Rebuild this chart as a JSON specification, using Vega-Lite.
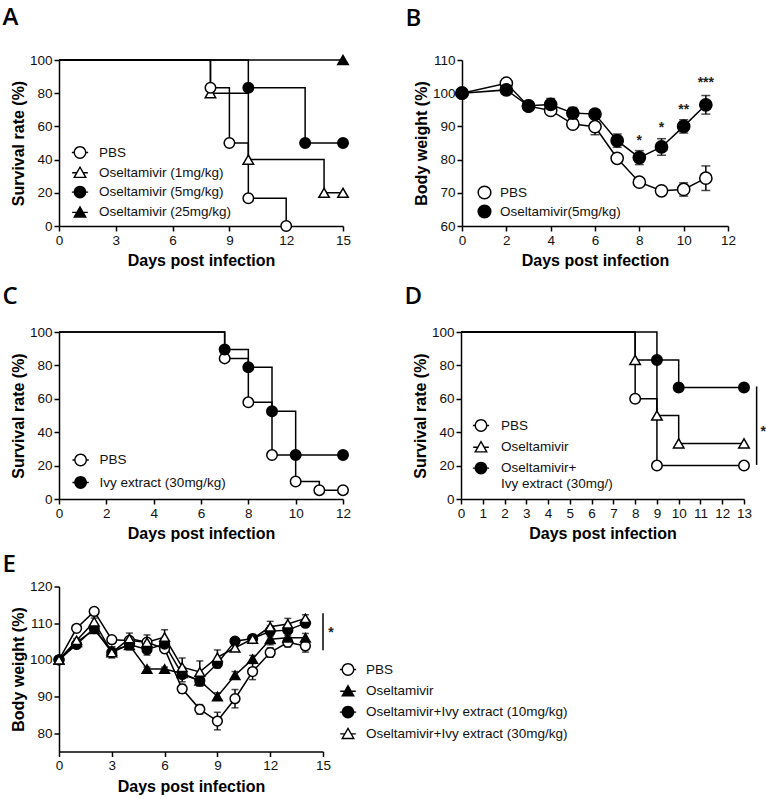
{
  "$schema": "https://vega.github.io/schema/vega-lite/v6.json",
  "background": "white",
  "padding": {"left": 2, "top": 6, "right": 2, "bottom": 2},
  "config": {
    "view": {"stroke": null},
    "font": "Liberation Sans",
    "axis": {
      "domainColor": "black", "domainWidth": 1.5, "tickColor": "black", "tickWidth": 1.5, "tickSize": 5,
      "labelFont": "Liberation Sans", "labelFontSize": 13.5, "labelColor": "#111", "labelPadding": 2,
      "titleFont": "Liberation Sans", "titleFontSize": 16, "titleFontWeight": "bold", "titleColor": "black",
      "titlePadding": 6, "grid": false, "labelFlush": false, "labelOverlap": false
    },
    "axisY": {"titlePadding": 3},
    "legend": {"labelFont": "Liberation Sans", "labelFontSize": 13.5, "labelColor": "#111", "padding": 0, "symbolStrokeColor": "black", "symbolStrokeWidth": 1.5, "labelLimit": 400, "symbolOpacity": 1},
    "title": {"font": "Open Sans", "fontSize": 24, "fontWeight": 600, "anchor": "start", "color": "black", "offset": 22, "dx": -8}
  },
  "datasets": {
    "survA": [
      {"group": "Oseltamivir (25mg/kg)", "day": 0, "surv": 100},
      {"group": "Oseltamivir (25mg/kg)", "day": 15, "surv": 100},
      {"group": "Oseltamivir (5mg/kg)", "day": 0, "surv": 100},
      {"group": "Oseltamivir (5mg/kg)", "day": 10, "surv": 83.3},
      {"group": "Oseltamivir (5mg/kg)", "day": 13, "surv": 50},
      {"group": "Oseltamivir (5mg/kg)", "day": 15, "surv": 50},
      {"group": "Oseltamivir (1mg/kg)", "day": 0, "surv": 100},
      {"group": "Oseltamivir (1mg/kg)", "day": 8, "surv": 80},
      {"group": "Oseltamivir (1mg/kg)", "day": 10, "surv": 40},
      {"group": "Oseltamivir (1mg/kg)", "day": 14, "surv": 20},
      {"group": "Oseltamivir (1mg/kg)", "day": 15, "surv": 20},
      {"group": "PBS", "day": 0, "surv": 100},
      {"group": "PBS", "day": 8, "surv": 83.3},
      {"group": "PBS", "day": 9, "surv": 50},
      {"group": "PBS", "day": 10, "surv": 16.7},
      {"group": "PBS", "day": 12, "surv": 0}
    ],
    "bwB": [
      {"group": "PBS", "day": 0, "bw": 100, "err": 0},
      {"group": "PBS", "day": 2, "bw": 103, "err": 0.3},
      {"group": "PBS", "day": 3, "bw": 96.1, "err": 0.3},
      {"group": "PBS", "day": 4, "bw": 94.8, "err": 0.5},
      {"group": "PBS", "day": 5, "bw": 90.7, "err": 0.5},
      {"group": "PBS", "day": 6, "bw": 89.9, "err": 2.4},
      {"group": "PBS", "day": 7, "bw": 80.4, "err": 0.3},
      {"group": "PBS", "day": 8, "bw": 73.2, "err": 0.3},
      {"group": "PBS", "day": 9, "bw": 70.6, "err": 0.3},
      {"group": "PBS", "day": 10, "bw": 71.0, "err": 2.0},
      {"group": "PBS", "day": 11, "bw": 74.4, "err": 3.7},
      {"group": "Oseltamivir(5mg/kg)", "day": 0, "bw": 100, "err": 0},
      {"group": "Oseltamivir(5mg/kg)", "day": 2, "bw": 101, "err": 0.3},
      {"group": "Oseltamivir(5mg/kg)", "day": 3, "bw": 96.2, "err": 0.5},
      {"group": "Oseltamivir(5mg/kg)", "day": 4, "bw": 96.6, "err": 1.8},
      {"group": "Oseltamivir(5mg/kg)", "day": 5, "bw": 94.0, "err": 1.7},
      {"group": "Oseltamivir(5mg/kg)", "day": 6, "bw": 93.7, "err": 0.5},
      {"group": "Oseltamivir(5mg/kg)", "day": 7, "bw": 85.7, "err": 2.0},
      {"group": "Oseltamivir(5mg/kg)", "day": 8, "bw": 80.6, "err": 2.1},
      {"group": "Oseltamivir(5mg/kg)", "day": 9, "bw": 83.8, "err": 2.5},
      {"group": "Oseltamivir(5mg/kg)", "day": 10, "bw": 90.0, "err": 2.0},
      {"group": "Oseltamivir(5mg/kg)", "day": 11, "bw": 96.5, "err": 2.8}
    ],
    "starsB": [
      {"day": 8, "bw": 85.6, "label": "*"},
      {"day": 9, "bw": 89.4, "label": "*"},
      {"day": 10, "bw": 94.9, "label": "**"},
      {"day": 11, "bw": 103, "label": "***"}
    ],
    "survC": [
      {"group": "PBS", "day": 0, "surv": 100},
      {"group": "PBS", "day": 7, "surv": 84.2},
      {"group": "PBS", "day": 8, "surv": 57.9},
      {"group": "PBS", "day": 9, "surv": 26.3},
      {"group": "PBS", "day": 10, "surv": 10.5},
      {"group": "PBS", "day": 11, "surv": 5.3},
      {"group": "PBS", "day": 12, "surv": 5.3},
      {"group": "Ivy extract (30mg/kg)", "day": 0, "surv": 100},
      {"group": "Ivy extract (30mg/kg)", "day": 7, "surv": 89.5},
      {"group": "Ivy extract (30mg/kg)", "day": 8, "surv": 78.9},
      {"group": "Ivy extract (30mg/kg)", "day": 9, "surv": 52.6},
      {"group": "Ivy extract (30mg/kg)", "day": 10, "surv": 26.3},
      {"group": "Ivy extract (30mg/kg)", "day": 12, "surv": 26.3}
    ],
    "survD": [
      {"group": "PBS", "day": 0, "surv": 100},
      {"group": "PBS", "day": 8, "surv": 60},
      {"group": "PBS", "day": 9, "surv": 20},
      {"group": "PBS", "day": 13, "surv": 20},
      {"group": "Oseltamivir", "day": 0, "surv": 100},
      {"group": "Oseltamivir", "day": 8, "surv": 83.3},
      {"group": "Oseltamivir", "day": 9, "surv": 50},
      {"group": "Oseltamivir", "day": 10, "surv": 33.3},
      {"group": "Oseltamivir", "day": 13, "surv": 33.3},
      {"group": "Oseltamivir+Ivy extract (30mg/)", "day": 0, "surv": 100},
      {"group": "Oseltamivir+Ivy extract (30mg/)", "day": 9, "surv": 83.3},
      {"group": "Oseltamivir+Ivy extract (30mg/)", "day": 10, "surv": 66.7},
      {"group": "Oseltamivir+Ivy extract (30mg/)", "day": 13, "surv": 66.7}
    ],
    "sigD": [{"day": 13.58, "surv": 67.4, "surv2": 20.4}],
    "starD": [{"day": 13.88, "surv": 40, "label": "*"}],
    "bwE": [
      {"group": "PBS", "day": 0, "bw": 100, "err": 0},
      {"group": "PBS", "day": 1, "bw": 108.6, "err": 0.8},
      {"group": "PBS", "day": 2, "bw": 113.2, "err": 0.8},
      {"group": "PBS", "day": 3, "bw": 105.5, "err": 0.8},
      {"group": "PBS", "day": 4, "bw": 105.3, "err": 0.8},
      {"group": "PBS", "day": 5, "bw": 104.8, "err": 0.8},
      {"group": "PBS", "day": 6, "bw": 103.0, "err": 1.0},
      {"group": "PBS", "day": 7, "bw": 92.1, "err": 1.2},
      {"group": "PBS", "day": 8, "bw": 86.5, "err": 1.3},
      {"group": "PBS", "day": 9, "bw": 83.3, "err": 2.4},
      {"group": "PBS", "day": 10, "bw": 89.4, "err": 2.5},
      {"group": "PBS", "day": 11, "bw": 96.8, "err": 2.2},
      {"group": "PBS", "day": 12, "bw": 102.0, "err": 1.3},
      {"group": "PBS", "day": 13, "bw": 104.8, "err": 1.3},
      {"group": "PBS", "day": 14, "bw": 103.8, "err": 1.7},
      {"group": "Oseltamivir", "day": 0, "bw": 100, "err": 0},
      {"group": "Oseltamivir", "day": 1, "bw": 104.8, "err": 0.5},
      {"group": "Oseltamivir", "day": 2, "bw": 108.3, "err": 0.5},
      {"group": "Oseltamivir", "day": 3, "bw": 102.5, "err": 1.0},
      {"group": "Oseltamivir", "day": 4, "bw": 104.0, "err": 1.0},
      {"group": "Oseltamivir", "day": 5, "bw": 97.5, "err": 0.5},
      {"group": "Oseltamivir", "day": 6, "bw": 97.5, "err": 0.5},
      {"group": "Oseltamivir", "day": 7, "bw": 96.3, "err": 1.0},
      {"group": "Oseltamivir", "day": 8, "bw": 94.3, "err": 1.3},
      {"group": "Oseltamivir", "day": 9, "bw": 90.0, "err": 1.0},
      {"group": "Oseltamivir", "day": 10, "bw": 95.8, "err": 1.0},
      {"group": "Oseltamivir", "day": 11, "bw": 100.2, "err": 1.0},
      {"group": "Oseltamivir", "day": 12, "bw": 105.6, "err": 1.5},
      {"group": "Oseltamivir", "day": 13, "bw": 106.0, "err": 1.5},
      {"group": "Oseltamivir", "day": 14, "bw": 106.0, "err": 1.2},
      {"group": "Oseltamivir+Ivy extract (10mg/kg)", "day": 0, "bw": 100, "err": 0},
      {"group": "Oseltamivir+Ivy extract (10mg/kg)", "day": 1, "bw": 104.2, "err": 0.5},
      {"group": "Oseltamivir+Ivy extract (10mg/kg)", "day": 2, "bw": 108.6, "err": 0.5},
      {"group": "Oseltamivir+Ivy extract (10mg/kg)", "day": 3, "bw": 102.0, "err": 1.0},
      {"group": "Oseltamivir+Ivy extract (10mg/kg)", "day": 4, "bw": 104.2, "err": 1.5},
      {"group": "Oseltamivir+Ivy extract (10mg/kg)", "day": 5, "bw": 102.8, "err": 1.5},
      {"group": "Oseltamivir+Ivy extract (10mg/kg)", "day": 6, "bw": 104.3, "err": 1.5},
      {"group": "Oseltamivir+Ivy extract (10mg/kg)", "day": 7, "bw": 96.0, "err": 2.0},
      {"group": "Oseltamivir+Ivy extract (10mg/kg)", "day": 8, "bw": 94.3, "err": 1.5},
      {"group": "Oseltamivir+Ivy extract (10mg/kg)", "day": 9, "bw": 99.0, "err": 1.2},
      {"group": "Oseltamivir+Ivy extract (10mg/kg)", "day": 10, "bw": 105.1, "err": 0.5},
      {"group": "Oseltamivir+Ivy extract (10mg/kg)", "day": 11, "bw": 105.8, "err": 0.5},
      {"group": "Oseltamivir+Ivy extract (10mg/kg)", "day": 12, "bw": 107.8, "err": 1.5},
      {"group": "Oseltamivir+Ivy extract (10mg/kg)", "day": 13, "bw": 108.1, "err": 1.5},
      {"group": "Oseltamivir+Ivy extract (10mg/kg)", "day": 14, "bw": 110.0, "err": 1.0},
      {"group": "Oseltamivir+Ivy extract (30mg/kg)", "day": 0, "bw": 100, "err": 0},
      {"group": "Oseltamivir+Ivy extract (30mg/kg)", "day": 1, "bw": 105.3, "err": 0.5},
      {"group": "Oseltamivir+Ivy extract (30mg/kg)", "day": 2, "bw": 110.4, "err": 1.0},
      {"group": "Oseltamivir+Ivy extract (30mg/kg)", "day": 3, "bw": 102.0, "err": 1.5},
      {"group": "Oseltamivir+Ivy extract (30mg/kg)", "day": 4, "bw": 105.8, "err": 1.5},
      {"group": "Oseltamivir+Ivy extract (30mg/kg)", "day": 5, "bw": 104.8, "err": 2.0},
      {"group": "Oseltamivir+Ivy extract (30mg/kg)", "day": 6, "bw": 106.2, "err": 2.0},
      {"group": "Oseltamivir+Ivy extract (30mg/kg)", "day": 7, "bw": 98.0, "err": 2.5},
      {"group": "Oseltamivir+Ivy extract (30mg/kg)", "day": 8, "bw": 96.7, "err": 3.0},
      {"group": "Oseltamivir+Ivy extract (30mg/kg)", "day": 9, "bw": 100.7, "err": 2.0},
      {"group": "Oseltamivir+Ivy extract (30mg/kg)", "day": 10, "bw": 103.3, "err": 0.5},
      {"group": "Oseltamivir+Ivy extract (30mg/kg)", "day": 11, "bw": 105.7, "err": 0.5},
      {"group": "Oseltamivir+Ivy extract (30mg/kg)", "day": 12, "bw": 109.0, "err": 1.5},
      {"group": "Oseltamivir+Ivy extract (30mg/kg)", "day": 13, "bw": 109.8, "err": 1.5},
      {"group": "Oseltamivir+Ivy extract (30mg/kg)", "day": 14, "bw": 111.3, "err": 1.0}
    ],
    "sigE": [{"day": 15, "bw": 112.7, "bw2": 102.6}],
    "starE": [{"day": 15.45, "bw": 107.2, "label": "*"}]
  },
  "spacing": 10.5,
  "resolve": {"scale": {"shape": "independent", "fill": "independent"}, "legend": {"shape": "independent", "fill": "independent"}},
  "vconcat": [
    {
      "spacing": 16,
      "resolve": {"scale": {"shape": "independent", "fill": "independent"}, "legend": {"shape": "independent", "fill": "independent"}},
      "vconcat": [
        {
          "hconcat": [
            {
              "width": 284, "height": 166,
              "title": {"text": "A"},
              "data": {"name": "survA"},
              "resolve": {"scale": {"shape": "independent"}, "legend": {"shape": "independent"}},
              "encoding": {
                "x": {"field": "day", "type": "quantitative", "scale": {"domain": [0, 15], "nice": false}, "axis": {"values": [0, 3, 6, 9, 12, 15], "title": "Days post  infection"}},
                "y": {"field": "surv", "type": "quantitative", "scale": {"domain": [0, 100], "nice": false}, "axis": {"values": [0, 20, 40, 60, 80, 100], "title": "Survival rate (%)"}}
              },
              "layer": [
                {"mark": {"type": "line", "interpolate": "step-after", "color": "black", "strokeWidth": 1.5}, "encoding": {"detail": {"field": "group"}}},
                {
                  "transform": [{"filter": "datum.day > 0"}],
                  "mark": {"type": "point", "size": 110, "stroke": "black", "strokeWidth": 1.5, "opacity": 1},
                  "encoding": {
                    "shape": {"field": "group", "type": "nominal",
                      "scale": {"domain": ["PBS", "Oseltamivir (1mg/kg)", "Oseltamivir (5mg/kg)", "Oseltamivir (25mg/kg)"], "range": ["circle", "triangle-up", "circle", "triangle-up"]},
                      "legend": null},
                    "fill": {"field": "group", "type": "nominal",
                      "scale": {"domain": ["PBS", "Oseltamivir (1mg/kg)", "Oseltamivir (5mg/kg)", "Oseltamivir (25mg/kg)"], "range": ["white", "white", "black", "black"]},
                      "legend": null}
                  }
                },
                {
                  "mark": {"type": "point", "filled": true, "color": "black", "size": 0, "opacity": 1},
                  "encoding": {
                    "shape": {"field": "group", "type": "nominal",
                      "scale": {"domain": ["PBS", "Oseltamivir (1mg/kg)", "Oseltamivir (5mg/kg)", "Oseltamivir (25mg/kg)"],
                        "range": [
                          "M1.1,0A1.1,1.1,0,1,1,-1.1,0A1.1,1.1,0,1,1,1.1,0ZM0.86,0A0.86,0.86,0,1,0,-0.86,0A0.86,0.86,0,1,0,0.86,0ZM-1.4,-0.12H-1.05V0.12H-1.4ZM1.05,-0.12H1.4V0.12H1.05Z",
                          "M0,-1.2L1.2,0.9L-1.2,0.9ZM0,-0.72L-0.79,0.66L0.79,0.66ZM-1.35,-0.12H-0.62V0.12H-1.35ZM0.62,-0.12H1.35V0.12H0.62Z",
                          "M1.1,0A1.1,1.1,0,1,1,-1.1,0A1.1,1.1,0,1,1,1.1,0ZM-1.4,-0.12H-1.05V0.12H-1.4ZM1.05,-0.12H1.4V0.12H1.05Z",
                          "M0,-1.2L1.2,0.9L-1.2,0.9ZM-1.35,-0.12H-0.62V0.12H-1.35ZM0.62,-0.12H1.35V0.12H0.62Z"
                        ]},
                      "legend": {"title": null, "orient": "none", "legendX": 14, "legendY": 85.5, "symbolSize": 135, "labelOffset": 12, "rowPadding": 0.3}}
                  }
                }
              ]
            },
            {
              "width": 266, "height": 166,
              "title": {"text": "B"},
              "encoding": {
                "x": {"field": "day", "type": "quantitative", "scale": {"domain": [0, 12], "nice": false}, "axis": {"values": [0, 2, 4, 6, 8, 10, 12], "title": "Days post  infection"}},
                "y": {"field": "bw", "type": "quantitative", "scale": {"domain": [60, 110], "nice": false, "zero": false}, "axis": {"values": [60, 70, 80, 90, 100, 110], "title": "Body weight (%)"}}
              },
              "layer": [
                {"data": {"name": "bwB"}, "mark": {"type": "errorbar", "ticks": {"size": 9, "thickness": 1.5}, "thickness": 1.5, "color": "black"}, "encoding": {"yError": {"field": "err"}, "detail": {"field": "group"}}},
                {"data": {"name": "bwB"}, "mark": {"type": "line", "color": "black", "strokeWidth": 1.5}, "encoding": {"detail": {"field": "group"}}},
                {"data": {"name": "bwB"}, "mark": {"type": "point", "shape": "circle", "size": 150, "stroke": "black", "strokeWidth": 1.5, "opacity": 1},
                  "encoding": {"fill": {"field": "group", "type": "nominal", "scale": {"domain": ["PBS", "Oseltamivir(5mg/kg)"], "range": ["white", "black"]},
                    "legend": {"title": null, "orient": "none", "legendX": 15, "legendY": 125, "symbolSize": 160, "symbolType": "circle", "labelOffset": 8, "rowPadding": 0}}}},
                {"data": {"name": "starsB"}, "mark": {"type": "text", "fontSize": 14, "fontWeight": "bold", "color": "#222", "baseline": "middle"}, "encoding": {"text": {"field": "label"}}}
              ]
            }
          ],
          "spacing": 119, "bounds": "flush",
          "resolve": {"scale": {"shape": "independent", "fill": "independent"}, "legend": {"shape": "independent", "fill": "independent"}}
        },
        {
          "hconcat": [
            {
              "width": 284, "height": 167,
              "title": {"text": "C", "offset": 16},
              "data": {"name": "survC"},
              "resolve": {"scale": {"shape": "independent", "fill": "independent"}, "legend": {"shape": "independent", "fill": "independent"}},
              "encoding": {
                "x": {"field": "day", "type": "quantitative", "scale": {"domain": [0, 12], "nice": false}, "axis": {"values": [0, 2, 4, 6, 8, 10, 12], "title": "Days post  infection"}},
                "y": {"field": "surv", "type": "quantitative", "scale": {"domain": [0, 100], "nice": false}, "axis": {"values": [0, 20, 40, 60, 80, 100], "title": "Survival rate (%)"}}
              },
              "layer": [
                {"mark": {"type": "line", "interpolate": "step-after", "color": "black", "strokeWidth": 1.5}, "encoding": {"detail": {"field": "group"}}},
                {
                  "transform": [{"filter": "datum.day > 0"}],
                  "mark": {"type": "point", "shape": "circle", "size": 110, "stroke": "black", "strokeWidth": 1.5, "opacity": 1},
                  "encoding": {
                    "fill": {"field": "group", "type": "nominal",
                      "scale": {"domain": ["PBS", "Ivy extract (30mg/kg)"], "range": ["white", "black"]},
                      "legend": null}
                  }
                },
                {
                  "mark": {"type": "point", "filled": true, "color": "black", "size": 0, "opacity": 1},
                  "encoding": {
                    "shape": {"field": "group", "type": "nominal",
                      "scale": {"domain": ["PBS", "Ivy extract (30mg/kg)"],
                        "range": [
                          "M1.1,0A1.1,1.1,0,1,1,-1.1,0A1.1,1.1,0,1,1,1.1,0ZM0.86,0A0.86,0.86,0,1,0,-0.86,0A0.86,0.86,0,1,0,0.86,0ZM-1.4,-0.12H-1.05V0.12H-1.4ZM1.05,-0.12H1.4V0.12H1.05Z",
                          "M1.1,0A1.1,1.1,0,1,1,-1.1,0A1.1,1.1,0,1,1,1.1,0ZM-1.4,-0.12H-1.05V0.12H-1.4ZM1.05,-0.12H1.4V0.12H1.05Z"
                        ]},
                      "legend": {"title": null, "orient": "none", "legendX": 14.6, "legendY": 121, "symbolSize": 135, "labelOffset": 12, "rowPadding": 2.5}}
                  }
                }
              ]
            },
            {
              "width": 283, "height": 167,
              "title": {"text": "D", "offset": 16},
              "resolve": {"scale": {"shape": "independent"}, "legend": {"shape": "independent"}},
              "encoding": {
                "x": {"field": "day", "type": "quantitative", "scale": {"domain": [0, 13], "nice": false}, "axis": {"values": [0, 1, 2, 3, 4, 5, 6, 7, 8, 9, 10, 11, 12, 13], "title": "Days post  infection"}},
                "y": {"field": "surv", "type": "quantitative", "scale": {"domain": [0, 100], "nice": false}, "axis": {"values": [0, 20, 40, 60, 80, 100], "title": "Survival rate (%)"}}
              },
              "layer": [
                {"data": {"name": "survD"}, "mark": {"type": "line", "interpolate": "step-after", "color": "black", "strokeWidth": 1.5}, "encoding": {"detail": {"field": "group"}}},
                {
                  "data": {"name": "survD"},
                  "transform": [{"filter": "datum.day > 0"}],
                  "mark": {"type": "point", "size": 110, "stroke": "black", "strokeWidth": 1.5, "opacity": 1},
                  "encoding": {
                    "shape": {"field": "group", "type": "nominal",
                      "scale": {"domain": ["PBS", "Oseltamivir", "Oseltamivir+Ivy extract (30mg/)"], "range": ["circle", "triangle-up", "circle"]},
                      "legend": null},
                    "fill": {"field": "group", "type": "nominal",
                      "scale": {"domain": ["PBS", "Oseltamivir", "Oseltamivir+Ivy extract (30mg/)"], "range": ["white", "white", "black"]},
                      "legend": null}
                  }
                },
                {
                  "data": {"name": "survD"},
                  "mark": {"type": "point", "filled": true, "color": "black", "size": 0, "opacity": 1},
                  "encoding": {
                    "shape": {"field": "group", "type": "nominal",
                      "scale": {"domain": ["PBS", "Oseltamivir", "Oseltamivir+Ivy extract (30mg/)"],
                        "range": [
                          "M1.1,0A1.1,1.1,0,1,1,-1.1,0A1.1,1.1,0,1,1,1.1,0ZM0.86,0A0.86,0.86,0,1,0,-0.86,0A0.86,0.86,0,1,0,0.86,0ZM-1.4,-0.12H-1.05V0.12H-1.4ZM1.05,-0.12H1.4V0.12H1.05Z",
                          "M0,-1.2L1.2,0.9L-1.2,0.9ZM0,-0.72L-0.79,0.66L0.79,0.66ZM-1.35,-0.12H-0.62V0.12H-1.35ZM0.62,-0.12H1.35V0.12H0.62Z",
                          "M1.1,0A1.1,1.1,0,1,1,-1.1,0A1.1,1.1,0,1,1,1.1,0ZM-1.4,-0.12H-1.05V0.12H-1.4ZM1.05,-0.12H1.4V0.12H1.05Z"
                        ]},
                      "legend": {"title": null, "orient": "none", "legendX": 13, "legendY": 86.5, "symbolSize": 135, "labelOffset": 13, "rowPadding": 1.8,
                        "labelExpr": "datum.label === 'Oseltamivir+Ivy extract (30mg/)' ? ['Oseltamivir+', 'Ivy extract (30mg/)'] : datum.label"}}
                  }
                },
                {"data": {"name": "sigD"}, "mark": {"type": "rule", "color": "black", "strokeWidth": 1.5}, "encoding": {"y2": {"field": "surv2"}}},
                {"data": {"name": "starD"}, "mark": {"type": "text", "fontSize": 14, "fontWeight": "bold", "color": "#222", "baseline": "middle"}, "encoding": {"text": {"field": "label"}}}
              ]
            }
          ],
          "spacing": 118, "bounds": "flush",
          "resolve": {"scale": {"shape": "independent", "fill": "independent"}, "legend": {"shape": "independent", "fill": "independent"}}
        }
      ]
    },
    {
      "width": 264, "height": 165,
      "title": {"text": "E", "offset": 3},
      "resolve": {"scale": {"shape": "independent"}, "legend": {"shape": "independent"}},
      "encoding": {
        "x": {"field": "day", "type": "quantitative", "scale": {"domain": [0, 15], "nice": false}, "axis": {"values": [0, 3, 6, 9, 12, 15], "title": "Days post  infection"}},
        "y": {"field": "bw", "type": "quantitative", "scale": {"domain": [75, 120], "nice": false, "zero": false}, "axis": {"values": [80, 90, 100, 110, 120], "title": "Body weight (%)"}}
      },
      "layer": [
        {"data": {"name": "bwE"}, "mark": {"type": "errorbar", "ticks": {"size": 7, "thickness": 1.5}, "thickness": 1.5, "color": "black"}, "encoding": {"yError": {"field": "err"}, "detail": {"field": "group"}}},
        {"data": {"name": "bwE"}, "mark": {"type": "line", "color": "black", "strokeWidth": 1.5}, "encoding": {"detail": {"field": "group"}}},
        {
          "data": {"name": "bwE"},
          "mark": {"type": "point", "size": 95, "stroke": "black", "strokeWidth": 1.5, "opacity": 1},
          "encoding": {
            "shape": {"field": "group", "type": "nominal",
              "scale": {"domain": ["PBS", "Oseltamivir", "Oseltamivir+Ivy extract (10mg/kg)", "Oseltamivir+Ivy extract (30mg/kg)"], "range": ["circle", "triangle-up", "circle", "triangle-up"]},
              "legend": null},
            "fill": {"field": "group", "type": "nominal",
              "scale": {"domain": ["PBS", "Oseltamivir", "Oseltamivir+Ivy extract (10mg/kg)", "Oseltamivir+Ivy extract (30mg/kg)"], "range": ["white", "black", "black", "white"]},
              "legend": null}
          }
        },
        {
          "data": {"name": "bwE"},
          "mark": {"type": "point", "filled": true, "color": "black", "size": 0, "opacity": 1},
          "encoding": {
            "shape": {"field": "group", "type": "nominal",
              "scale": {"domain": ["PBS", "Oseltamivir", "Oseltamivir+Ivy extract (10mg/kg)", "Oseltamivir+Ivy extract (30mg/kg)"],
                "range": [
                  "M1.1,0A1.1,1.1,0,1,1,-1.1,0A1.1,1.1,0,1,1,1.1,0ZM0.86,0A0.86,0.86,0,1,0,-0.86,0A0.86,0.86,0,1,0,0.86,0ZM-1.4,-0.12H-1.05V0.12H-1.4ZM1.05,-0.12H1.4V0.12H1.05Z",
                  "M0,-1.2L1.2,0.9L-1.2,0.9ZM-1.35,-0.12H-0.62V0.12H-1.35ZM0.62,-0.12H1.35V0.12H0.62Z",
                  "M1.1,0A1.1,1.1,0,1,1,-1.1,0A1.1,1.1,0,1,1,1.1,0ZM-1.4,-0.12H-1.05V0.12H-1.4ZM1.05,-0.12H1.4V0.12H1.05Z",
                  "M0,-1.2L1.2,0.9L-1.2,0.9ZM0,-0.72L-0.79,0.66L0.79,0.66ZM-1.35,-0.12H-0.62V0.12H-1.35ZM0.62,-0.12H1.35V0.12H0.62Z"
                ]},
              "legend": {"title": null, "orient": "none", "legendX": 282, "legendY": 76, "symbolSize": 135, "labelOffset": 11, "rowPadding": 1.8}}
          }
        },
        {"data": {"name": "sigE"}, "mark": {"type": "rule", "color": "black", "strokeWidth": 1.5}, "encoding": {"y2": {"field": "bw2"}}},
        {"data": {"name": "starE"}, "mark": {"type": "text", "fontSize": 14, "fontWeight": "bold", "color": "#222", "baseline": "middle"}, "encoding": {"text": {"field": "label"}}}
      ]
    }
  ]
}
